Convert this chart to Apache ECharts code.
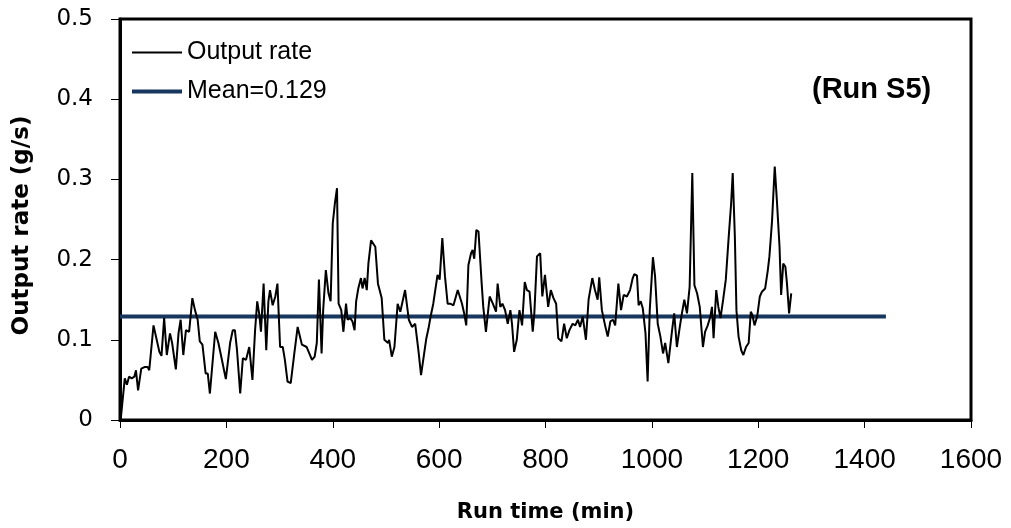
<!DOCTYPE html>
<html>
<head>
<meta charset="utf-8">
<script src="https://cdn.jsdelivr.net/npm/echarts@6/dist/echarts.min.js"></script>
<style>html,body{margin:0;padding:0;background:#fff;}#c{width:1011px;height:528px;}</style>
</head>
<body>
<div id="c"></div>
<script>
// Run time (min)
var times = [2,9,13,17,22,27,30,34,40,46,52,55,63,69,74,78,83,88,94,98,105,110,114,119,124,130,136,141,146,150,155,161,165,169,
179,185,191,199,207,212,216,220,226,231,237,243,249,254,258,262,265,270,275,279,282,287,292,296,301,306,310,315,321,327,334,342,351,
354,361,366,370,374,379,382,387,392,396,400,404,408,411,416,420,425,428,433,437,441,444,448,453,456,460,464,467,472,480,485,492,497,504,506,511,516,522,
527,532,536,543,549,555,561,566,571,576,580,584,589,597,601,606,611,616,621,627,630,635,643,647,651,655,660,663,666,670,674,680,683,688,695,701,707,710,
715,719,724,729,734,737,741,746,751,756,761,765,770,776,779,784,790,794,799,805,810,815,820,824,830,835,840,845,851,856,861,865,870,876,881,888,
893,898,901,906,912,917,922,927,931,937,942,947,953,959,964,967,972,975,979,983,988,992,996,1002,1006,1011,1016,1021,1025,1031,1038,1042,1047,1052,1056,1061,1066,
1071,1076,1080,1085,1090,1096,1100,1105,1110,1113,1116,1121,1125,1129,1134,1139,1144,1149,1152,1156,1159,1163,1168,1172,1177,1182,1186,1189,1193,1198,1203,1207,1213,1218,1221,1226,1231,1235,1240,1243,1247,1251,1254,1258,1262];
// Output rate (g/s)
var outputRate = [0.005,0.052,0.044,0.054,0.052,0.054,0.062,0.037,0.064,0.066,0.066,0.062,0.118,0.100,0.085,0.080,0.127,0.081,0.108,0.096,0.063,0.108,0.125,0.081,0.112,0.110,0.152,0.137,0.125,0.098,0.094,0.058,0.058,0.033,
0.110,0.096,0.077,0.051,0.096,0.112,0.112,0.087,0.033,0.077,0.075,0.091,0.050,0.112,0.148,0.131,0.110,0.170,0.087,0.148,0.162,0.143,0.154,0.170,0.091,0.091,0.075,0.048,0.046,0.079,0.116,0.094,0.091,
0.091,0.075,0.079,0.096,0.175,0.083,0.137,0.187,0.158,0.148,0.245,0.270,0.289,0.145,0.137,0.110,0.145,0.125,0.127,0.123,0.112,0.148,0.164,0.177,0.164,0.177,0.162,0.195,0.224,0.216,0.170,0.152,0.100,0.096,0.100,0.079,0.091,0.145,
0.135,0.150,0.162,0.125,0.116,0.120,0.087,0.056,0.079,0.102,0.114,0.129,0.145,0.181,0.175,0.227,0.179,0.145,0.145,0.143,0.141,0.162,0.145,0.133,0.118,0.193,0.208,0.212,0.201,0.237,0.235,0.170,0.141,0.110,0.154,0.145,0.135,0.170,
0.141,0.145,0.137,0.120,0.137,0.120,0.085,0.100,0.137,0.118,0.172,0.162,0.160,0.110,0.133,0.204,0.208,0.154,0.181,0.141,0.162,0.152,0.145,0.102,0.098,0.120,0.102,0.112,0.120,0.118,0.125,0.116,0.129,0.100,0.150,0.177,
0.162,0.150,0.178,0.137,0.118,0.104,0.123,0.125,0.118,0.170,0.137,0.156,0.154,0.162,0.177,0.182,0.180,0.143,0.148,0.139,0.108,0.048,0.137,0.203,0.179,0.120,0.104,0.083,0.096,0.071,0.112,0.133,0.091,0.114,0.131,0.150,0.133,
0.166,0.308,0.168,0.158,0.141,0.091,0.110,0.118,0.129,0.141,0.102,0.162,0.141,0.127,0.150,0.175,0.224,0.270,0.308,0.229,0.137,0.104,0.087,0.081,0.091,0.096,0.135,0.131,0.118,0.129,0.154,0.160,0.164,0.187,0.204,0.249,0.316,0.274,0.216,0.156,0.195,0.191,0.170,0.133,0.158];
var meanTimes = [0, 1440];
var meanValue = 0.129;
var xTicks = {min: 0, max: 1600, interval: 200};
var yTicks = {min: 0, max: 0.5, interval: 0.1};

var outData = times.map(function(t, i){ return [t, outputRate[i]]; });
var meanData = meanTimes.map(function(t){ return [t, meanValue]; });

var chart = echarts.init(document.getElementById('c'), null, {renderer: 'canvas'});
var arial = '"Liberation Sans", Arial, sans-serif';
var dejavu = '"DejaVu Sans", sans-serif';
var navy = '#17375e';
chart.setOption({
  animation: false,
  backgroundColor: '#fff',
  grid: {left: 120, right: 40, top: 19, bottom: 108, show: true, borderColor: '#000', borderWidth: 3, backgroundColor: 'transparent'},
  legend: [
    {left: 132, top: 40, padding: 0, icon: 'rect', itemWidth: 50, itemHeight: 2,
     textStyle: {fontFamily: arial, fontSize: 25, color: '#000'},
     data: [{name: 'Output rate', itemStyle: {color: '#000'}}]},
    {left: 132, top: 79, padding: 0, icon: 'rect', itemWidth: 50, itemHeight: 4,
     textStyle: {fontFamily: arial, fontSize: 25, color: '#000'},
     data: [{name: 'Mean=0.129', itemStyle: {color: navy}}]}
  ],
  title: {text: '(Run S5)', left: 812, top: 75, padding: 0,
    textStyle: {fontFamily: arial, fontSize: 29, fontWeight: 'bold', color: '#000'}},
  xAxis: {
    type: 'value', min: xTicks.min, max: xTicks.max, interval: xTicks.interval,
    name: 'Run time (min)', nameLocation: 'middle', nameGap: 82,
    nameTextStyle: {fontFamily: dejavu, fontSize: 21, fontWeight: 'bold', color: '#000'},
    axisLine: {show: true, lineStyle: {color: '#000', width: 3}},
    axisTick: {show: true, length: 8, lineStyle: {color: '#000', width: 1}},
    axisLabel: {fontFamily: arial, fontSize: 28, color: '#000', margin: 26,
      formatter: function(v){ return String(v); }},
    splitLine: {show: false}
  },
  yAxis: {
    type: 'value', min: yTicks.min, max: yTicks.max, interval: yTicks.interval,
    name: 'Output rate (g/s)', nameLocation: 'middle', nameGap: 86, nameRotate: 90,
    nameTextStyle: {fontFamily: dejavu, fontSize: 23, fontWeight: 'bold', color: '#000', padding: [0, 12, 0, 0]},
    axisLine: {show: true, lineStyle: {color: '#000', width: 3}},
    axisTick: {show: true, length: 9, lineStyle: {color: '#000', width: 1}},
    axisLabel: {fontFamily: dejavu, fontSize: 23, color: '#000', margin: 27,
      formatter: function(v){ return v === 0 ? '0' : v.toFixed(1); }},
    splitLine: {show: false}
  },
  series: [
    {name: 'Output rate', type: 'line', data: outData, symbol: 'none', lineStyle: {color: '#000', width: 2}, itemStyle: {color: '#000'}, z: 3},
    {name: 'Mean=0.129', type: 'line', data: meanData, symbol: 'none', lineStyle: {color: navy, width: 4}, itemStyle: {color: navy}, z: 2}
  ]
});
</script>
</body>
</html>
